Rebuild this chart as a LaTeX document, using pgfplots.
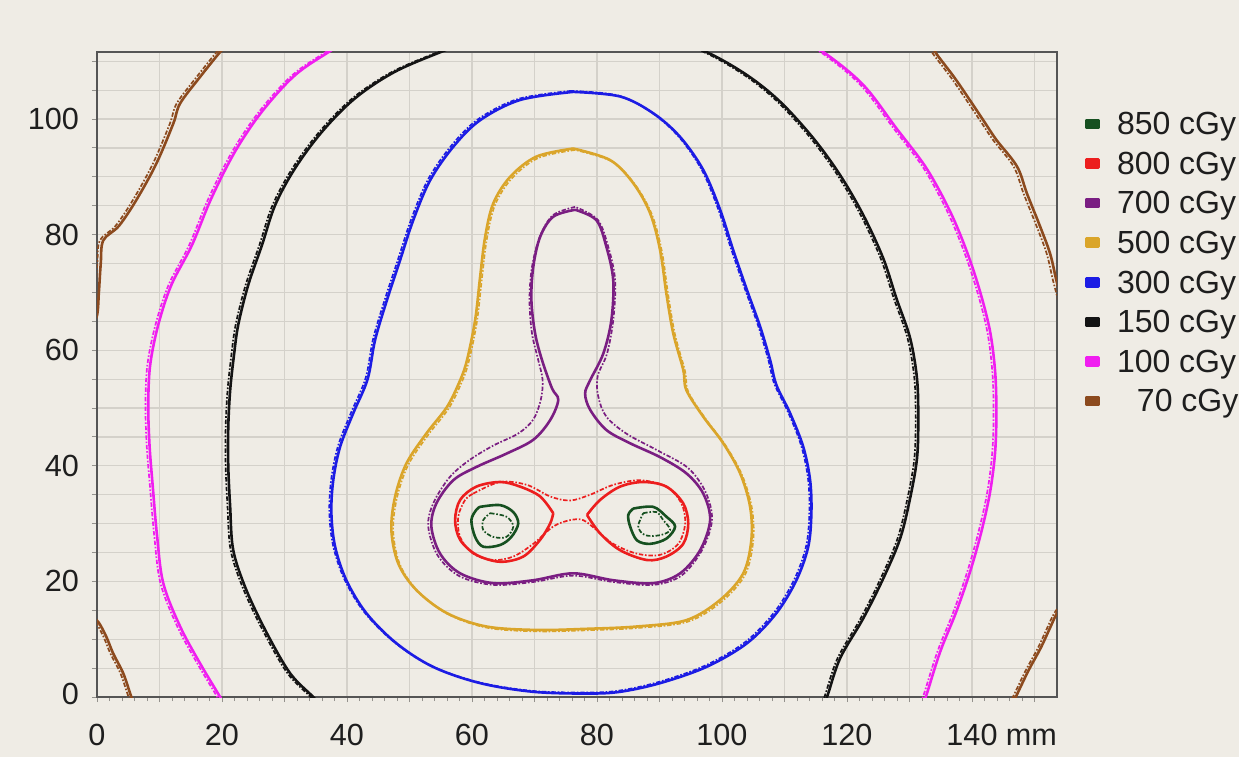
\documentclass[border=0pt]{standalone}
\usepackage{pgfplots}
\pgfplotsset{compat=1.18}
\usepackage{fontspec}
\setmainfont{Liberation Sans}
\definecolor{bg}{RGB}{239,236,229}
\definecolor{gridc}{RGB}{212,209,202}
\definecolor{axc}{RGB}{85,85,85}
\definecolor{txt}{RGB}{30,30,30}
\definecolor{c850}{RGB}{22,80,32}
\definecolor{c800}{RGB}{236,30,30}
\definecolor{c700}{RGB}{122,30,130}
\definecolor{c500}{RGB}{218,165,42}
\definecolor{c300}{RGB}{28,28,228}
\definecolor{c150}{RGB}{20,20,20}
\definecolor{c100}{RGB}{240,30,240}
\definecolor{c70}{RGB}{140,74,30}
\tikzset{
  sol/.style={line width=1.3pt, line join=round, smooth, tension=0.55},
  dsh/.style={line width=0.85pt, smooth, tension=0.55, dash pattern=on 2.2pt off 0.9pt on 0.8pt off 0.9pt},
}
\begin{document}
\begin{tikzpicture}[x=1pt,y=1pt]
\fill[bg] (0,0) rectangle (619.5,378.5);
\useasboundingbox (0,0) rectangle (619.5,378.5);
\begin{axis}[
  at={(48.5pt,30pt)}, anchor=south west,
  scale only axis, width=480pt, height=322.5pt,
  xmin=0, xmax=153.6, ymin=0, ymax=111.6,
  axis background/.style={fill=bg},
  axis line style={draw=axc, line width=1pt},
  xtick={0,10,...,150},
  xticklabels={0,,20,,40,,60,,80,,100,,120,,140\rlap{ mm},},
  ytick={0,5,...,110},
  yticklabels={\raisebox{3.5pt}{0},,,,20,,,,40,,,,60,,,,80,,,,100,,},
  minor x tick num=4,
  grid=major,
  major grid style={draw=gridc, line width=0.6pt},
  tick pos=left, tick align=outside,
  major tick length=2.5pt, minor tick length=2pt,
  every tick/.style={draw=gridc!70!black, line width=0.5pt},
  ticklabel style={font=\fontsize{15.3}{18}\selectfont, text=txt},
  xticklabel style={yshift=-7.5pt},
  yticklabel style={xshift=-3pt},
  legend style={at={(1,0.908)}, anchor=north west, xshift=14pt,
    draw=none, fill=none, inner sep=0pt, row sep=8.3pt, column sep=8.5pt,
    font=\fontsize{16}{18}\selectfont, text=txt,
    nodes={inner sep=0pt, text height=11.5pt, text depth=0pt}},
  legend cell align=left,
  legend image code/.code={\fill[#1] (0pt,-2.3pt) rectangle (6pt,1.7pt);},
]
% ---- 850 cGy
\addplot[sol, c850, fill=none] coordinates {(61.3,32.9)(64.5,33.2)(66.6,32.0)(67.4,30.0)(66.3,27.7)(64.5,26.3)(61.8,26.0)(60.5,27.7)(59.9,30.6)(60.7,32.4)(61.3,32.9)};
\addlegendentry{850 cGy}
% ---- 800 cGy
\addplot[sol, c800] coordinates {(73.0,31.8)(70.9,34.7)(67.7,36.4)(64.5,37.2)(60.7,36.4)(58.1,34.1)(57.3,30.6)(58.1,27.2)(60.7,24.6)(64.5,23.4)(68.2,24.3)(70.9,27.2)(72.5,30.0)(73.0,31.8)};
\addlegendentry{800 cGy}
% ---- 700 cGy
\addplot[sol, c700] coordinates {(76.5,84.3)(73.0,83.1)(70.9,79.6)(69.8,74.4)(69.5,68.7)(70.1,62.9)(71.2,58.3)(72.8,53.4)(73.8,51.4)(72.5,47.9)(69.8,44.5)(65.5,42.1)(60.7,39.8)(57.0,37.5)(54.3,33.5)(53.5,29.5)(54.9,24.8)(58.1,21.4)(63.4,19.7)(69.8,20.2)(76.2,21.4)(82.6,20.2)(89.0,19.7)(93.3,21.4)(96.5,25.4)(98.1,30.6)(97.0,35.2)(94.3,38.7)(90.1,41.5)(85.3,43.9)(81.5,46.2)(78.9,49.7)(78.1,52.5)(78.9,54.8)(81.0,59.4)(82.3,65.2)(82.6,72.1)(81.5,77.9)(79.9,82.5)(76.5,84.3)};
\addlegendentry{700 cGy}
% ---- 500 cGy
\addplot[sol, c500] coordinates {(76.2,94.9)(70.3,93.5)(66.1,90.0)(63.4,85.4)(62.1,79.6)(61.3,72.7)(60.5,65.2)(59.2,58.3)(58.1,54.8)(56.0,50.2)(52.7,45.6)(49.5,40.4)(47.7,34.7)(47.1,28.9)(48.2,23.1)(51.1,18.5)(56.0,14.5)(62.3,12.2)(70.3,11.6)(78.4,11.8)(86.4,12.2)(94.3,13.3)(99.7,16.8)(103.4,21.4)(104.7,27.2)(104.5,32.9)(102.9,38.7)(100.2,43.9)(97.0,48.5)(94.3,53.1)(93.8,56.6)(92.2,62.9)(91.1,69.8)(90.1,77.3)(88.5,83.7)(85.8,88.9)(82.1,92.9)(76.2,94.9)};
\addlegendentry{500 cGy}
% ---- 300 cGy
\addplot[sol, c300] coordinates {(76.2,104.7)(67.7,103.3)(61.3,99.8)(57.0,95.2)(53.3,89.4)(50.6,82.5)(48.5,75.6)(46.4,68.7)(44.5,61.8)(43.3,55.0)(41.0,49.1)(38.9,43.3)(37.8,37.5)(37.5,31.8)(38.1,26.0)(39.9,20.2)(43.1,14.5)(47.9,9.3)(53.8,5.2)(61.3,2.4)(69.8,0.9)(78.4,0.6)(83.7,0.9)(90.1,2.4)(97.5,5.2)(104.0,9.3)(108.7,14.5)(111.9,20.2)(113.8,26.0)(114.3,31.8)(114.1,37.5)(113.0,43.3)(110.9,49.1)(108.7,54.0)(107.7,58.3)(106.1,64.1)(104.0,70.4)(101.8,77.3)(99.7,84.3)(97.0,91.2)(93.3,96.9)(89.0,101.0)(83.7,103.9)(76.2,104.7)};
\addlegendentry{300 cGy}
% ---- 150 cGy
\addplot[sol, c150] coordinates {(35.8,-1.5)(34.6,0)(30.9,4.1)(27.2,11.0)(23.9,18.5)(21.8,25.4)(21.3,33)(21.0,40)(21.0,46.6)(21.3,53)(21.9,59)(22.6,64.4)(24.2,71.3)(26.4,78.2)(28.5,85.1)(31.7,91.5)(36.0,97.8)(41.3,103.6)(47.7,108.2)(55.7,111.9)(62,114.5)(76,117)(90,114.5)(97.5,111.6)(104.0,107.6)(109.3,103.0)(114.6,96.7)(118.9,90.3)(122.6,83.4)(125.8,75.9)(127.9,69.0)(130.1,62.1)(131.2,55.1)(131.4,48.2)(131.2,41.3)(130.1,34.4)(128.5,27.4)(125.8,20.5)(122.6,13.6)(118.9,6.7)(116.9,0.3)(116.2,-1.5)};
\addlegendentry{150 cGy}
% ---- 100 cGy
\addplot[sol, c100] coordinates {(20.2,-1)(19.7,0)(16.5,5.8)(13.3,12.2)(10.6,19.7)(9.6,28)(8.9,36.7)(8.4,43.6)(8.2,50.5)(8.5,57.4)(9.8,64.4)(11.9,71.3)(15.2,78.2)(18.3,86.3)(22.1,94.4)(26.4,101.3)(31.7,107.6)(37.5,111.9)(45,117)(76,124)(108,117)(116.2,111.6)(122.6,105.9)(127.9,98.4)(132.7,91.5)(136.5,84.0)(139.2,77.0)(141.3,70.1)(142.9,63.2)(143.7,56.3)(143.9,49.4)(143.7,42.4)(142.9,35.5)(141.5,28.6)(139.7,21.7)(137.5,14.8)(134.9,7.8)(132.7,0.3)(132.2,-1)};
\addlegendentry{100 cGy}
% ---- 70 cGy
\addplot[sol, c70] coordinates {(21,113)(19.7,111.6)(16.5,107.3)(13.3,102.7)(12.2,99.2)(9.5,92.3)(6.3,86.0)(3.5,81.5)(1.0,79)(0.6,75)(0.3,70)(0,66)(-1,64)};
\addlegendentry{\hspace{10pt}70 cGy}
\addplot[sol, c70, forget plot] coordinates {(-1,14)(0.2,13.0)(1.5,10.4)(2.6,7.5)(4.2,4.1)(5.5,0)(6,-1)};
\addplot[sol, c70, forget plot] coordinates {(133.5,113)(134.3,111.3)(137.5,106.7)(141.8,99.8)(143.9,96.4)(147.2,91.8)(148.8,87.1)(150.9,81.4)(152.5,76.7)(153.5,72.1)(154.5,68)};
\addplot[sol, c70, forget plot] coordinates {(155,16.5)(153.6,14.5)(152.5,12)(151,8.5)(149,4.5)(147,0)(146.5,-1)};
% ---- dashed (second distribution)
\addplot[dsh, c70, forget plot, xshift=-1.7pt] coordinates {(21,113)(19.7,111.6)(16.5,107.3)(13.3,102.7)(12.2,99.2)(9.5,92.3)(6.3,86.0)(3.5,81.5)(1.0,79)(0.6,75)(0.3,70)(0,66)(-1,64)};
\addplot[dsh, c70, forget plot, xshift=-1.4pt] coordinates {(-1,14)(0.2,13.0)(1.5,10.4)(2.6,7.5)(4.2,4.1)(5.5,0)(6,-1)};
\addplot[dsh, c70, forget plot, xshift=-1.7pt] coordinates {(133.5,113)(134.3,111.3)(137.5,106.7)(141.8,99.8)(143.9,96.4)(147.2,91.8)(148.8,87.1)(150.9,81.4)(152.5,76.7)(153.5,72.1)(154.5,68)};
\addplot[dsh, c70, forget plot, xshift=-1.4pt] coordinates {(155,16.5)(153.6,14.5)(152.5,12)(151,8.5)(149,4.5)(147,0)(146.5,-1)};
\addplot[dsh, c100, forget plot, xshift=-1.4pt] coordinates {(20.2,-1)(19.7,0)(16.5,5.8)(13.3,12.2)(10.6,19.7)(9.6,28)(8.9,36.7)(8.4,43.6)(8.2,50.5)(8.5,57.4)(9.8,64.4)(11.9,71.3)(15.2,78.2)(18.3,86.3)(22.1,94.4)(26.4,101.3)(31.7,107.6)(37.5,111.9)(45,117)(76,124)(108,117)(116.2,111.6)(122.6,105.9)(127.9,98.4)(132.7,91.5)(136.5,84.0)(139.2,77.0)(141.3,70.1)(142.9,63.2)(143.7,56.3)(143.9,49.4)(143.7,42.4)(142.9,35.5)(141.5,28.6)(139.7,21.7)(137.5,14.8)(134.9,7.8)(132.7,0.3)(132.2,-1)};
\addplot[dsh, c150, forget plot, xshift=-1.3pt] coordinates {(35.8,-1.5)(34.6,0)(30.9,4.1)(27.2,11.0)(23.9,18.5)(21.8,25.4)(21.3,33)(21.0,40)(21.0,46.6)(21.3,53)(21.9,59)(22.6,64.4)(24.2,71.3)(26.4,78.2)(28.5,85.1)(31.7,91.5)(36.0,97.8)(41.3,103.6)(47.7,108.2)(55.7,111.9)(62,114.5)(76,117)(90,114.5)(97.5,111.6)(104.0,107.6)(109.3,103.0)(114.6,96.7)(118.9,90.3)(122.6,83.4)(125.8,75.9)(127.9,69.0)(130.1,62.1)(131.2,55.1)(131.4,48.2)(131.2,41.3)(130.1,34.4)(128.5,27.4)(125.8,20.5)(122.6,13.6)(118.9,6.7)(116.9,0.3)(116.2,-1.5)};
\addplot[dsh, c300, forget plot, xshift=-1.0pt, yshift=0.5pt] coordinates {(76.2,104.7)(67.7,103.3)(61.3,99.8)(57.0,95.2)(53.3,89.4)(50.6,82.5)(48.5,75.6)(46.4,68.7)(44.5,61.8)(43.3,55.0)(41.0,49.1)(38.9,43.3)(37.8,37.5)(37.5,31.8)(38.1,26.0)(39.9,20.2)(43.1,14.5)(47.9,9.3)(53.8,5.2)(61.3,2.4)(69.8,0.9)(78.4,0.6)(83.7,0.9)(90.1,2.4)(97.5,5.2)(104.0,9.3)(108.7,14.5)(111.9,20.2)(113.8,26.0)(114.3,31.8)(114.1,37.5)(113.0,43.3)(110.9,49.1)(108.7,54.0)(107.7,58.3)(106.1,64.1)(104.0,70.4)(101.8,77.3)(99.7,84.3)(97.0,91.2)(93.3,96.9)(89.0,101.0)(83.7,103.9)(76.2,104.7)};
\addplot[dsh, c500, forget plot, xshift=0.9pt, yshift=-0.7pt] coordinates {(76.2,94.9)(70.3,93.5)(66.1,90.0)(63.4,85.4)(62.1,79.6)(61.3,72.7)(60.5,65.2)(59.2,58.3)(58.1,54.8)(56.0,50.2)(52.7,45.6)(49.5,40.4)(47.7,34.7)(47.1,28.9)(48.2,23.1)(51.1,18.5)(56.0,14.5)(62.3,12.2)(70.3,11.6)(78.4,11.8)(86.4,12.2)(94.3,13.3)(99.7,16.8)(103.4,21.4)(104.7,27.2)(104.5,32.9)(102.9,38.7)(100.2,43.9)(97.0,48.5)(94.3,53.1)(93.8,56.6)(92.2,62.9)(91.1,69.8)(90.1,77.3)(88.5,83.7)(85.8,88.9)(82.1,92.9)(76.2,94.9)};
\addplot[dsh, c700, forget plot] coordinates {(76.5,84.8)(73.0,83.4)(70.9,79.8)(69.6,74.4)(69.2,68.7)(69.6,62.9)(70.6,58.3)(71.3,54.8)(71.0,51.4)(69.8,48.0)(67.4,45.6)(63.4,43.5)(59.6,41.0)(56.4,38.0)(53.8,33.5)(53.0,29.5)(54.5,24.5)(58.0,20.9)(63.4,19.4)(69.8,19.9)(76.2,21.0)(82.6,19.9)(89.0,19.4)(93.5,21.0)(96.8,25.4)(98.4,30.6)(97.4,35.4)(94.6,39.6)(89.8,42.6)(84.8,45.5)(81.5,48.5)(80.2,52.0)(80.1,55.5)(81.6,59.4)(82.6,65.2)(82.9,72.1)(81.8,77.9)(80.1,82.6)(76.5,84.8)};
\addplot[sol, c800, forget plot] coordinates {(78.4,31.5)(80.5,34.1)(83.7,36.4)(87.4,37.2)(91.1,36.4)(93.8,33.5)(94.6,30.0)(93.8,26.5)(91.1,24.3)(88.0,23.7)(83.7,25.4)(80.5,28.3)(78.4,31.5)};
\addplot[dsh, c800, forget plot] coordinates {(60.2,35.2)(64.5,37.2)(68.8,36.7)(72.5,34.7)(75.7,34.0)(78.9,35.0)(82.6,36.7)(86.9,37.5)(91.1,36.4)(93.5,33.5)(94.1,30.0)(93.0,26.5)(90.1,24.6)(86.4,24.8)(82.6,26.5)(79.9,28.9)(77.8,30.6)(75.7,30.6)(73.0,29.5)(69.8,26.5)(66.6,24.3)(63.4,23.7)(60.2,24.8)(58.1,27.7)(57.8,31.2)(58.9,34.1)(60.2,35.2)};
\addplot[sol, c850, forget plot] coordinates {(85.8,32.6)(89.0,32.9)(91.1,31.2)(92.5,29.5)(91.1,27.4)(88.5,26.5)(86.4,27.1)(85.3,29.5)(85.0,31.5)(85.8,32.6)};
\addplot[dsh, c850, forget plot] coordinates {(62.9,31.8)(65.5,31.2)(66.6,29.5)(65.5,27.7)(63.4,27.7)(61.8,28.9)(61.8,30.6)(62.9,31.8)};
\addplot[dsh, c850, forget plot] coordinates {(87.4,31.8)(89.5,32.0)(90.6,30.6)(91.7,28.9)(90.1,28.0)(87.7,28.0)(86.6,29.5)(87.4,31.8)};
\end{axis}
\end{tikzpicture}
\end{document}
